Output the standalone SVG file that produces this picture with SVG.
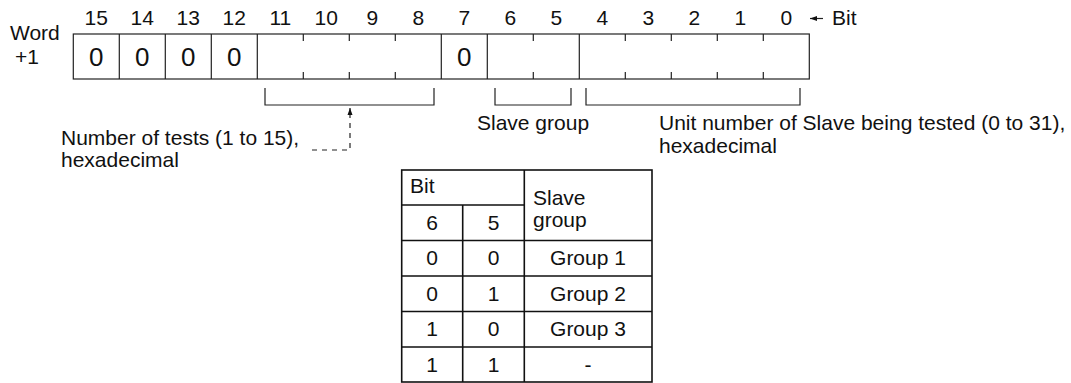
<svg xmlns="http://www.w3.org/2000/svg" width="1071" height="383" viewBox="0 0 1071 383">
<defs>
<style>
text{font-family:"Liberation Sans",Arial,sans-serif;fill:#111;}
.lbl{font-size:21px;}
.num{font-size:21px;text-anchor:middle;}
.big{font-size:26px;text-anchor:middle;}
.reg{fill:#fff;stroke:#222;stroke-width:1.2;}
.ln{stroke:#222;stroke-width:1.2;fill:none;}
.tb{stroke:#111;stroke-width:1.6;fill:none;}
.dash{stroke:#222;stroke-width:1.2;fill:none;stroke-dasharray:5 5;}
.tc{font-size:21px;text-anchor:middle;}
</style>
<marker id="ah" markerWidth="8" markerHeight="8" refX="7" refY="4" orient="auto" markerUnits="userSpaceOnUse">
<path d="M0,1.5 L7,4 L0,6.5 Z" fill="#111"/>
</marker>
</defs>

<g id="word-label">
<text class="lbl" x="10" y="40">Word</text>
<text class="lbl" x="15" y="64">+1</text>
</g>

<g id="bit-numbers">
<text class="num" x="96.3" y="25">15</text>
<text class="num" x="142.3" y="25">14</text>
<text class="num" x="188.3" y="25">13</text>
<text class="num" x="234.3" y="25">12</text>
<text class="num" x="280.3" y="25">11</text>
<text class="num" x="326.3" y="25">10</text>
<text class="num" x="372.3" y="25">9</text>
<text class="num" x="418.3" y="25">8</text>
<text class="num" x="464.3" y="25">7</text>
<text class="num" x="510.3" y="25">6</text>
<text class="num" x="556.3" y="25">5</text>
<text class="num" x="602.3" y="25">4</text>
<text class="num" x="648.3" y="25">3</text>
<text class="num" x="694.3" y="25">2</text>
<text class="num" x="740.3" y="25">1</text>
<text class="num" x="786.3" y="25">0</text>
</g>

<g id="bit-label">
<line class="ln" x1="823" y1="18.5" x2="810" y2="18.5" marker-end="url(#ah)"/>
<text class="lbl" x="832" y="25">Bit</text>
</g>

<g id="register">
<rect class="reg" x="73.3" y="34" width="736" height="45"/>
<path class="ln" d="M119.3,34V79 M165.3,34V79 M211.3,34V79 M257.3,34V79 M441.3,34V79 M487.3,34V79 M579.3,34V79"/>
<path class="ln" d="M303.3,34v7 M303.3,79v-7 M349.3,34v7 M349.3,79v-7 M395.3,34v7 M395.3,79v-7 M533.3,34v7 M533.3,79v-7 M625.3,34v7 M625.3,79v-7 M671.3,34v7 M671.3,79v-7 M717.3,34v7 M717.3,79v-7 M763.3,34v7 M763.3,79v-7"/>
<text class="big" x="96.3" y="66">0</text>
<text class="big" x="142.3" y="66">0</text>
<text class="big" x="188.3" y="66">0</text>
<text class="big" x="234.3" y="66">0</text>
<text class="big" x="464.3" y="66">0</text>
</g>

<g id="connectors">
<path class="ln" d="M265,88V105H434V88"/>
<path class="ln" d="M495,88V105H571V88"/>
<path class="ln" d="M586,88V105H800V88"/>
<path class="dash" d="M312,150H350V113"/>
<line class="ln" x1="350" y1="113" x2="350" y2="108" marker-end="url(#ah)"/>
</g>

<g id="tests-label">
<text class="lbl" x="61" y="145">Number of tests (1 to 15),</text>
<text class="lbl" x="61" y="167">hexadecimal</text>
</g>

<g id="slave-group-label">
<text class="lbl" x="477" y="130">Slave group</text>
</g>

<g id="unit-label">
<text class="lbl" x="659" y="130">Unit number of Slave being tested (0 to 31),</text>
<text class="lbl" x="659" y="153">hexadecimal</text>
</g>

<g id="table">
<rect class="tb" x="401.7" y="170" width="250.3" height="212"/>
<path class="tb" d="M401.7,205H524.3 M401.7,240.5H652 M401.7,276H652 M401.7,311.5H652 M401.7,347H652 M462.7,205V382 M524.3,170V382"/>
<text class="lbl" x="410" y="193">Bit</text>
<text class="lbl" x="533" y="205">Slave</text>
<text class="lbl" x="533" y="227">group</text>
<text class="tc" x="432.2" y="230">6</text>
<text class="tc" x="493.5" y="230">5</text>
<text class="tc" x="432.2" y="265">0</text>
<text class="tc" x="493.5" y="265">0</text>
<text class="tc" x="588" y="265">Group 1</text>
<text class="tc" x="432.2" y="300.5">0</text>
<text class="tc" x="493.5" y="300.5">1</text>
<text class="tc" x="588" y="300.5">Group 2</text>
<text class="tc" x="432.2" y="336">1</text>
<text class="tc" x="493.5" y="336">0</text>
<text class="tc" x="588" y="336">Group 3</text>
<text class="tc" x="432.2" y="371.5">1</text>
<text class="tc" x="493.5" y="371.5">1</text>
<text class="tc" x="588" y="371.5">-</text>
</g>
</svg>
